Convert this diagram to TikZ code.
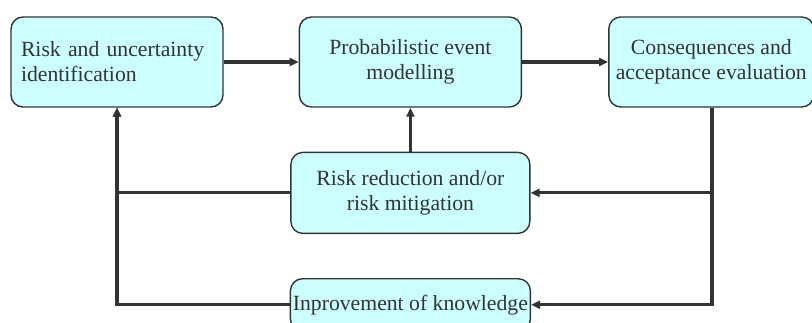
\documentclass[tikz,border=0pt]{standalone}
\usepackage{fontspec}
\setmainfont{Liberation Serif}
\usepackage{xcolor}
\usepackage{tikz}
\usetikzlibrary{arrows.meta,positioning,calc}
\definecolor{boxfill}{HTML}{CCFFFF}
\definecolor{ink}{HTML}{333333}

\begin{document}
\begin{tikzpicture}[x=1pt, y=-1pt,
  blk/.style={draw=ink, line width=1.4pt, rounded corners=12pt, fill=boxfill, text=ink, align=center,
    font=\fontsize{21.7}{25}\selectfont, inner sep=0pt, minimum height=90pt},
  arr/.style={-{Triangle[length=9pt,width=8pt]}, line width=3.2pt, draw=ink}]
\clip (0,0) rectangle (812,323);
\node[blk, minimum width=212pt, text width=192pt, align=left] (risk) at (117,62) {Risk and uncertainty\\identification};
\node[blk, minimum width=222pt, right=75pt of risk] (model) {Probabilistic event\\modelling};
\node[blk, minimum width=205pt, right=86pt of model] (cons) {Consequences and\\acceptance evaluation};
\node[blk, minimum width=239pt, minimum height=81pt, below=44pt of model] (reduce) {Risk reduction and/or\\risk mitigation};
\node[blk, minimum width=240pt, minimum height=52pt, below=44pt of reduce] (improve) {Inprovement of knowledge};
\coordinate (split) at (712,302);
\draw[arr] (risk) -- (model);
\draw[arr] (model) -- (cons);
\draw[arr] (reduce) -- (model);
\draw[arr] (cons.south -| split) |- (reduce.east);
\draw[arr] (cons.south -| split) |- (improve.east);
\draw[arr] (reduce.west) -| (risk.south);
\draw[arr] (improve.west) -| (risk.south);
\end{tikzpicture}
\end{document}
